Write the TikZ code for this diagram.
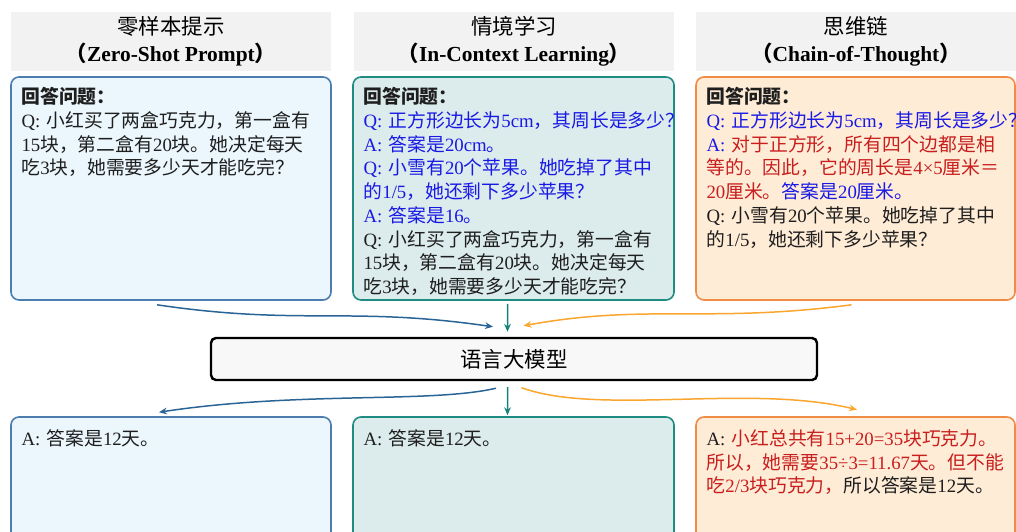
\documentclass[tikz,border=0pt]{standalone}
\usepackage{fontspec}
\setmainfont{Liberation Serif}
\newfontfamily\cjkfont{Noto Sans CJK SC}
\usetikzlibrary{arrows.meta}

% Chinese characters are set in the CJK font
\XeTeXinterchartokenstate=1
\newXeTeXintercharclass\cjkclass
\newcount\cjkcode
\newcommand\setcjkrange[2]{%
  \cjkcode=#1
  \loop
    \XeTeXcharclass\cjkcode=\cjkclass
  \ifnum\cjkcode<#2
    \advance\cjkcode by 1
  \repeat}
\setcjkrange{"3000}{"303F}
\setcjkrange{"4E00}{"9FFF}
\setcjkrange{"FF00}{"FFEF}
\XeTeXinterchartoks 0 \cjkclass = {\begingroup\cjkfont}
\XeTeXinterchartoks 4095 \cjkclass = {\begingroup\cjkfont}
\XeTeXinterchartoks \cjkclass 0 = {\endgroup}
\XeTeXinterchartoks \cjkclass 4095 = {\endgroup}

\definecolor{headgray}{RGB}{242,242,242}
\definecolor{bodyblack}{RGB}{30,30,30}
\definecolor{qblue}{RGB}{25,25,230}
\definecolor{ared}{RGB}{200,30,30}
\definecolor{zsline}{RGB}{75,125,175}
\definecolor{zsfill}{RGB}{235,247,253}
\definecolor{icline}{RGB}{30,140,130}
\definecolor{icfill}{RGB}{220,235,235}
\definecolor{coline}{RGB}{240,140,70}
\definecolor{cofill}{RGB}{255,236,214}
\definecolor{zsarrow}{RGB}{40,100,150}
\definecolor{icarrow}{RGB}{20,130,120}
\definecolor{coarrow}{RGB}{250,165,45}
\definecolor{llmgray}{RGB}{248,248,248}

\begin{document}
\begin{tikzpicture}[
    head/.style={fill=headgray, minimum width=6.4cm, minimum height=1.18cm, align=center, inner sep=0pt, font=\fontsize{12.2}{15.5}\selectfont},
    qbox/.style={rounded corners=0.16cm, line width=0.9pt, minimum width=6.4cm, inner sep=0pt},
    body/.style={anchor=north west, inner sep=0pt, text width=7.2cm, align=left, text=bodyblack, font=\fontsize{10.7}{13.5}\selectfont},
    arr/.style={-{Stealth[length=4.5pt,width=3.8pt]}, line width=0.85pt}
]
    \useasboundingbox (0,0) rectangle (20.32,10.62);

    % Draw the headers
    \node[head] (zsh) at (3.42,9.79) {零样本提示\\\textbf{（Zero-Shot Prompt）}};
    \node[head] (ich) at (10.28,9.79) {情境学习\\\textbf{（In-Context Learning）}};
    \node[head] (coh) at (17.12,9.79) {思维链\\\textbf{（Chain-of-Thought）}};

    % Draw the question boxes
    \node[qbox, draw=zsline, fill=zsfill, minimum height=4.46cm] (zsq) at (3.42,6.85) {};
    \node[qbox, draw=icline, fill=icfill, minimum height=4.46cm, minimum width=6.42cm] (icq) at (10.27,6.85) {};
    \node[qbox, draw=coline, fill=cofill, minimum height=4.46cm, minimum width=6.38cm] (coq) at (17.11,6.85) {};

    % Question texts
    \node[body] (zsqt) at ([shift={(0.22,-0.22)}]zsq.north west) {\textbf{回答问题：}\\
        Q: 小红买了两盒巧克力，第一盒有\\
        15块，第二盒有20块。她决定每天\\
        吃3块，她需要多少天才能吃完？};
    \node[body] (icqt) at ([shift={(0.22,-0.22)}]icq.north west) {\textbf{回答问题：}\\
        \textcolor{qblue}{Q: 正方形边长为5cm，其周长是多少？}\\
        \textcolor{qblue}{A: 答案是20cm。}\\
        \textcolor{qblue}{Q: 小雪有20个苹果。她吃掉了其中}\\
        \textcolor{qblue}{的1/5，她还剩下多少苹果？}\\
        \textcolor{qblue}{A: 答案是16。}\\
        Q: 小红买了两盒巧克力，第一盒有\\
        15块，第二盒有20块。她决定每天\\
        吃3块，她需要多少天才能吃完？};
    \node[body] (coqt) at ([shift={(0.22,-0.22)}]coq.north west) {\textbf{回答问题：}\\
        \textcolor{qblue}{Q: 正方形边长为5cm，其周长是多少？}\\
        \textcolor{qblue}{A:} \textcolor{ared}{对于正方形，所有四个边都是相}\\
        \textcolor{ared}{等的。因此，它的周长是4×5厘米＝}\\
        \textcolor{ared}{20厘米。}\textcolor{qblue}{答案是20厘米。}\\
        Q: 小雪有20个苹果。她吃掉了其中\\
        的1/5，她还剩下多少苹果？};

    % Draw the model
    \node[draw=black, line width=1.4pt, fill=llmgray, rounded corners=0.1cm, minimum width=12.12cm, minimum height=0.84cm, font=\fontsize{12.2}{14}\selectfont] (llm) at (10.28,3.44) {语言大模型};

    % Draw the answer boxes
    \node[qbox, draw=zsline, fill=zsfill, minimum height=3cm] (zsa) at (3.42,0.78) {};
    \node[qbox, draw=icline, fill=icfill, minimum height=3cm, minimum width=6.42cm] (ica) at (10.27,0.78) {};
    \node[qbox, draw=coline, fill=cofill, minimum height=3cm, minimum width=6.38cm] (coa) at (17.11,0.78) {};

    % Answer texts
    \node[body] (zsat) at ([shift={(0.22,-0.26)}]zsa.north west) {A: 答案是12天。};
    \node[body] (icat) at ([shift={(0.22,-0.26)}]ica.north west) {A: 答案是12天。};
    \node[body] (coat) at ([shift={(0.22,-0.26)}]coa.north west) {A: \textcolor{ared}{小红总共有15+20=35块巧克力。}\\
        \textcolor{ared}{所以，她需要35÷3=11.67天。但不能}\\
        \textcolor{ared}{吃2/3块巧克力，}所以答案是12天。};

    % Draw the arrows into the model
    \draw[arr, zsarrow] ([shift={(-0.28,-0.08)}]zsq.south) .. controls (6.0,4.1) and (7.0,4.5) .. ([shift={(-0.42,0.2)}]llm.north);
    \draw[arr, icarrow] ([shift={(-0.12,-0.06)}]icq.south) -- ([shift={(-0.13,0.1)}]llm.north);
    \draw[arr, coarrow] ([shift={(-0.08,-0.08)}]coq.south) .. controls (14.2,4.15) and (12.9,4.55) .. ([shift={(0.19,0.22)}]llm.north);

    % Draw the arrows out of the model
    \draw[arr, zsarrow] ([shift={(-0.36,-0.14)}]llm.south) .. controls (8.6,2.55) and (6.0,2.8) .. ([shift={(-0.24,0.08)}]zsa.north);
    \draw[arr, icarrow] ([shift={(-0.13,-0.12)}]llm.south) -- ([shift={(-0.12,0.02)}]ica.north);
    \draw[arr, coarrow] ([shift={(0.15,-0.13)}]llm.south) .. controls (12.0,2.3) and (15.0,2.95) .. ([shift={(0.03,0.13)}]coa.north);
\end{tikzpicture}
\end{document}
